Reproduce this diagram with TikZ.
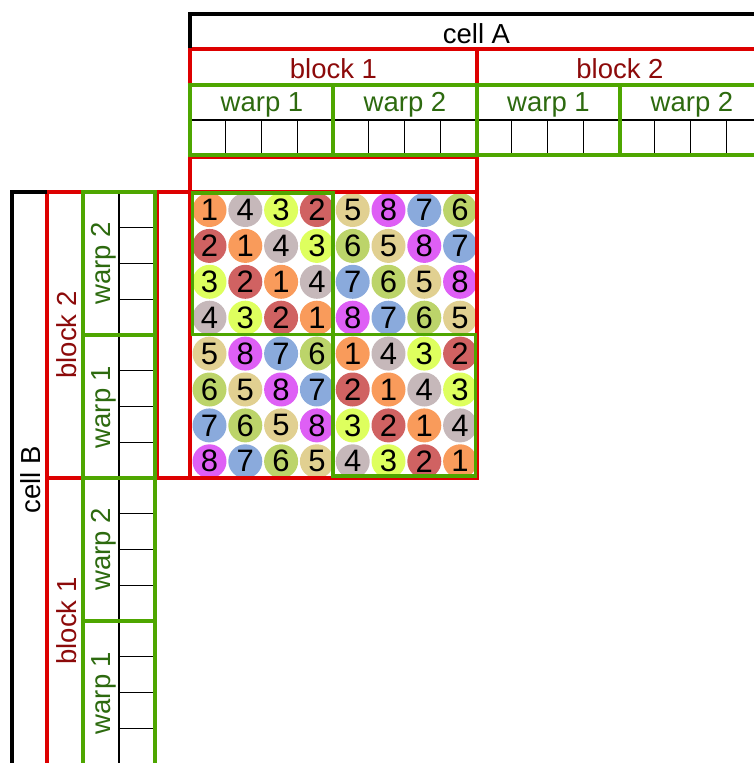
\documentclass[tikz,border=0pt]{standalone}
\usepackage{fontspec}
\setmainfont{Liberation Sans}
\definecolor{cA}{HTML}{F99B5B}
\definecolor{cB}{HTML}{D06262}
\definecolor{cC}{HTML}{DEFF5E}
\definecolor{cD}{HTML}{C6B8BA}
\definecolor{cE}{HTML}{E1D091}
\definecolor{cF}{HTML}{BCD46A}
\definecolor{cG}{HTML}{8AAADC}
\definecolor{cH}{HTML}{DE5FF5}
\definecolor{redline}{HTML}{DD0000}
\definecolor{grnline}{HTML}{4EA600}
\definecolor{redtext}{HTML}{8C0A0A}
\definecolor{grntext}{HTML}{2D6A0F}
\begin{document}
\begin{tikzpicture}[x=1pt,y=-1pt,
  thickblk/.style={draw=black,line width=3.6pt},
  redln/.style={draw=redline,line width=3.3pt},
  grnln/.style={draw=grnline,line width=3.3pt},
  thinln/.style={draw=black,line width=1.3pt},
  circ/.style={circle,minimum size=34pt,inner sep=0pt,font=\fontsize{31}{31}\selectfont},
  celllbl/.style={anchor=base,inner sep=0pt,text=black,font=\fontsize{27.5}{28}\selectfont},
  blocklbl/.style={anchor=base,inner sep=0pt,text=redtext,font=\fontsize{27.5}{28}\selectfont},
  warplbl/.style={anchor=base,inner sep=0pt,text=grntext,font=\fontsize{27.5}{28}\selectfont}]
\useasboundingbox (0,0) rectangle (754,763);
\clip (0,0) rectangle (754,763);
% thin cell lines
\draw[thinln] (190,120) -- (770,120);
\foreach \k in {1,2,3,5,6,7,9,10,11,13,14,15}
  \draw[thinln] ({190+35.75*\k},120) -- ({190+35.75*\k},155);
\draw[thinln] (119,192) -- (119,770);
\foreach \k in {1,2,3,5,6,7,9,10,11,13,14,15}
  \draw[thinln] (119,{192+35.75*\k}) -- (155,{192+35.75*\k});
% circles
\foreach \row [count=\r from 0] in {{1,4,3,2,5,8,7,6},{2,1,4,3,6,5,8,7},{3,2,1,4,7,6,5,8},{4,3,2,1,8,7,6,5},{5,8,7,6,1,4,3,2},{6,5,8,7,2,1,4,3},{7,6,5,8,3,2,1,4},{8,7,6,5,4,3,2,1}}
{
  \foreach \v [count=\c from 0] in \row {
    \pgfmathsetmacro{\cn}{{"cA","cB","cC","cD","cE","cF","cG","cH"}[\v-1]}
    \node[circ,fill=\cn] (n-\r-\c) at ({209.5+35.8*\c},{210+35.9*\r}) {\v};
  }
}
% red block outlines
\draw[redln] (190,49) rectangle (477,478);
\draw[redln] (477,49) -- (770,49);
\draw[redln] (190,157) -- (477,157);
\draw[redln] (47,192) rectangle (477,478);
\draw[redln] (157,192) -- (157,478);
\draw[redln] (47,478) -- (47,770);
% green warp outlines
\draw[grnln] (190,85) rectangle (333,155);
\draw[grnln] (333,85) rectangle (477,155);
\draw[grnln] (477,85) rectangle (620,155);
\draw[grnln] (620,85) rectangle (775,155);
\draw[grnln] (83,192) rectangle (155,335);
\draw[grnln] (83,335) rectangle (155,478);
\draw[grnln] (83,478) rectangle (155,621);
\draw[grnln] (83,621) rectangle (155,775);
\draw[grnln] (192.5,193) rectangle (333,334.5);
\draw[grnln] (333,334.5) rectangle (475.5,476);
% cell outlines
\draw[thickblk] (190,48) -- (190,14) -- (775,14);
\draw[thickblk] (47,192) -- (12,192) -- (12,775);
% labels top
\node[celllbl] (cellA) at (476.5,43.3) {cell A};
\node[blocklbl] (tb1) at (333.5,78.3) {block 1};
\node[blocklbl] (tb2) at (620,78.3) {block 2};
\node[warplbl] (tw11) at (262,111.7) {warp 1};
\node[warplbl] (tw12) at (405,111.7) {warp 2};
\node[warplbl] (tw21) at (548.5,111.7) {warp 1};
\node[warplbl] (tw22) at (692,111.7) {warp 2};
% labels left
\node[celllbl,rotate=90] (cellB) at (40,480) {cell B};
\node[blocklbl,rotate=90] (lb2) at (76.5,335) {block 2};
\node[blocklbl,rotate=90] (lb1) at (76.5,621) {block 1};
\node[warplbl,rotate=90] (lw22) at (110,263.5) {warp 2};
\node[warplbl,rotate=90] (lw21) at (110,407) {warp 1};
\node[warplbl,rotate=90] (lw12) at (110,549.5) {warp 2};
\node[warplbl,rotate=90] (lw11) at (110,693) {warp 1};
\end{tikzpicture}
\end{document}
